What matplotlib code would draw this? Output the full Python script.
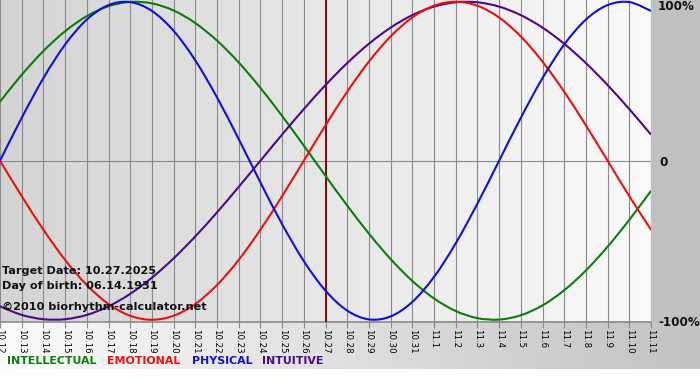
import numpy as np
import matplotlib
matplotlib.use("Agg")
import matplotlib.pyplot as plt
from matplotlib.patches import Rectangle, PathPatch
from matplotlib.path import Path

# ---- data ----
dates = ["10.12", "10.13", "10.14", "10.15", "10.16", "10.17", "10.18", "10.19",
         "10.20", "10.21", "10.22", "10.23", "10.24", "10.25", "10.26", "10.27",
         "10.28", "10.29", "10.30", "10.31", "11.1", "11.2", "11.3", "11.4",
         "11.5", "11.6", "11.7", "11.8", "11.9", "11.10", "11.11"]

physical = [0.0, 0.2698, 0.5196, 0.7308, 0.8879, 0.9791, 0.9977, 0.9423, 0.8170,
            0.6311, 0.3984, 0.1362, -0.1362, -0.3984, -0.6311, -0.8170, -0.9423,
            -0.9977, -0.9791, -0.8879, -0.7308, -0.5196, -0.2698, 0.0, 0.2698,
            0.5196, 0.7308, 0.8879, 0.9791, 0.9977, 0.9423]

emotional = [0.0, -0.2225, -0.4339, -0.6235, -0.7818, -0.9010, -0.9749, -1.0,
             -0.9749, -0.9010, -0.7818, -0.6235, -0.4339, -0.2225, 0.0, 0.2225,
             0.4339, 0.6235, 0.7818, 0.9010, 0.9749, 1.0, 0.9749, 0.9010, 0.7818,
             0.6235, 0.4339, 0.2225, 0.0, -0.2225, -0.4339]

intellectual = [0.3717, 0.5406, 0.6901, 0.8146, 0.9096, 0.9718, 0.9989, 0.9898,
                0.9450, 0.8660, 0.7557, 0.6182, 0.4582, 0.2817, 0.0951, -0.0951,
                -0.2817, -0.4582, -0.6182, -0.7557, -0.8660, -0.9450, -0.9898,
                -0.9989, -0.9718, -0.9096, -0.8146, -0.6901, -0.5406, -0.3717,
                -0.1893]

intuitive = [-0.9158, -0.9694, -0.9966, -0.9966, -0.9694, -0.9158, -0.8372,
             -0.7357, -0.6142, -0.4759, -0.3247, -0.1646, 0.0, 0.1646, 0.3247,
             0.4759, 0.6142, 0.7357, 0.8372, 0.9158, 0.9694, 0.9966, 0.9966,
             0.9694, 0.9158, 0.8372, 0.7357, 0.6142, 0.4759, 0.3247, 0.1646]

target_label = "10.27"
legend_names = ["INTELLECTUAL", "EMOTIONAL", "PHYSICAL", "INTUITIVE"]
info_lines = ["Target Date: 10.27.2025", "Day of birth: 06.14.1931",
              "\u00a92010 biorhythm-calculator.net"]
right_labels = ["100%", "0", "-100%"]

# ---- style ----
C_INT = "#0a7d0a"
C_EMO = "#e81010"
C_PHY = "#1010d8"
C_ITU = "#4b0a8a"
W, H = 700, 380

fig = plt.figure(figsize=(7, 3.8), dpi=100)

# background layer in pixel coordinates
bg = fig.add_axes([0, 0, 1, 1], zorder=-1)
bg.set_xlim(0, W)
bg.set_ylim(H, 0)
bg.axis("off")
PX_R, PX_B = 651, 321.5
grad = np.linspace(0, 1, 256).reshape(1, -1)
bg.imshow(grad, cmap=matplotlib.colors.LinearSegmentedColormap.from_list(
    "b", ["#fbfbfb", "#c2c2c2"]), extent=(0, W, 369, PX_B), aspect="auto",
    interpolation="bilinear")
bg.add_patch(Rectangle((PX_R, 0), W - PX_R, PX_B, color="#c0c0c0", lw=0))
bg.imshow(grad, cmap=matplotlib.colors.LinearSegmentedColormap.from_list(
    "p", ["#d4d4d4", "#fafafa"]), extent=(0, PX_R, PX_B, 0), aspect="auto",
    interpolation="bilinear")

ax = fig.add_axes([0, 1 - PX_B / H, PX_R / W, PX_B / H])
ax.set_facecolor("none")
x = np.arange(len(dates))
ax.set_xlim(0, len(dates) - 1)
ax.set_ylim(-1.011, 1.011)
for s in ax.spines.values():
    s.set_visible(False)

for xi in x:
    ax.axvline(xi, color="#8a8a8a", lw=0.8, zorder=1)
ax.axhline(0, color="#8a8a8a", lw=0.8, zorder=1)
ax.axhline(-1.011, color="#8a8a8a", lw=1.2, zorder=1, clip_on=False)
ax.axvline(dates.index(target_label), color="#7a1010", lw=1.5, zorder=2)


def smooth_line(xs, ys, color):
    """Draw a line through the data points as a Catmull-Rom (cubic Bezier) path."""
    xs = np.asarray(xs, float)
    ys = np.asarray(ys, float)
    pts = np.column_stack([xs, ys])
    n = len(pts)
    verts = [pts[0]]
    codes = [Path.MOVETO]
    for i in range(n - 1):
        p0 = pts[i - 1] if i > 0 else pts[i]
        p1 = pts[i]
        p2 = pts[i + 1]
        p3 = pts[i + 2] if i + 2 < n else pts[i + 1]
        c1 = p1 + (p2 - p0) / 6.0
        c2 = p2 - (p3 - p1) / 6.0
        verts += [c1, c2, p2]
        codes += [Path.CURVE4] * 3
    patch = PathPatch(Path(verts, codes), facecolor="none", edgecolor=color,
                      lw=1.5, zorder=3, capstyle="butt", joinstyle="round")
    ax.add_patch(patch)


smooth_line(x, intellectual, C_INT)
smooth_line(x, intuitive, C_ITU)
smooth_line(x, emotional, C_EMO)
smooth_line(x, physical, C_PHY)

ax.set_yticks([])
ax.set_xticks(x)
ax.set_xticklabels(dates, rotation=-90, fontsize=6.2, family="DejaVu Sans")
ax.tick_params(axis="x", length=4, width=0.8, color="#8a8a8a", pad=1.5)


def ftext(px, py, s, **kw):
    fig.text(px / W, 1 - py / H, s, **kw)


for i, line in enumerate(info_lines):
    ftext(2, [271, 286, 307][i], line, fontsize=8.1, fontweight="bold",
          va="center", ha="left", color="#111111")

for lab, py in zip(right_labels, [7, 162, 322]):
    ftext(658 if lab != "0" else 659, py, lab, fontsize=8.6, fontweight="bold",
          va="center", ha="left", color="#111111")

for name, col, px in zip(legend_names, [C_INT, C_EMO, C_PHY, C_ITU],
                         [7, 107, 192, 262]):
    ftext(px, 361, name, fontsize=7.9, fontweight="bold", va="center",
          ha="left", color=col)

fig.savefig("out.png", dpi=100)
